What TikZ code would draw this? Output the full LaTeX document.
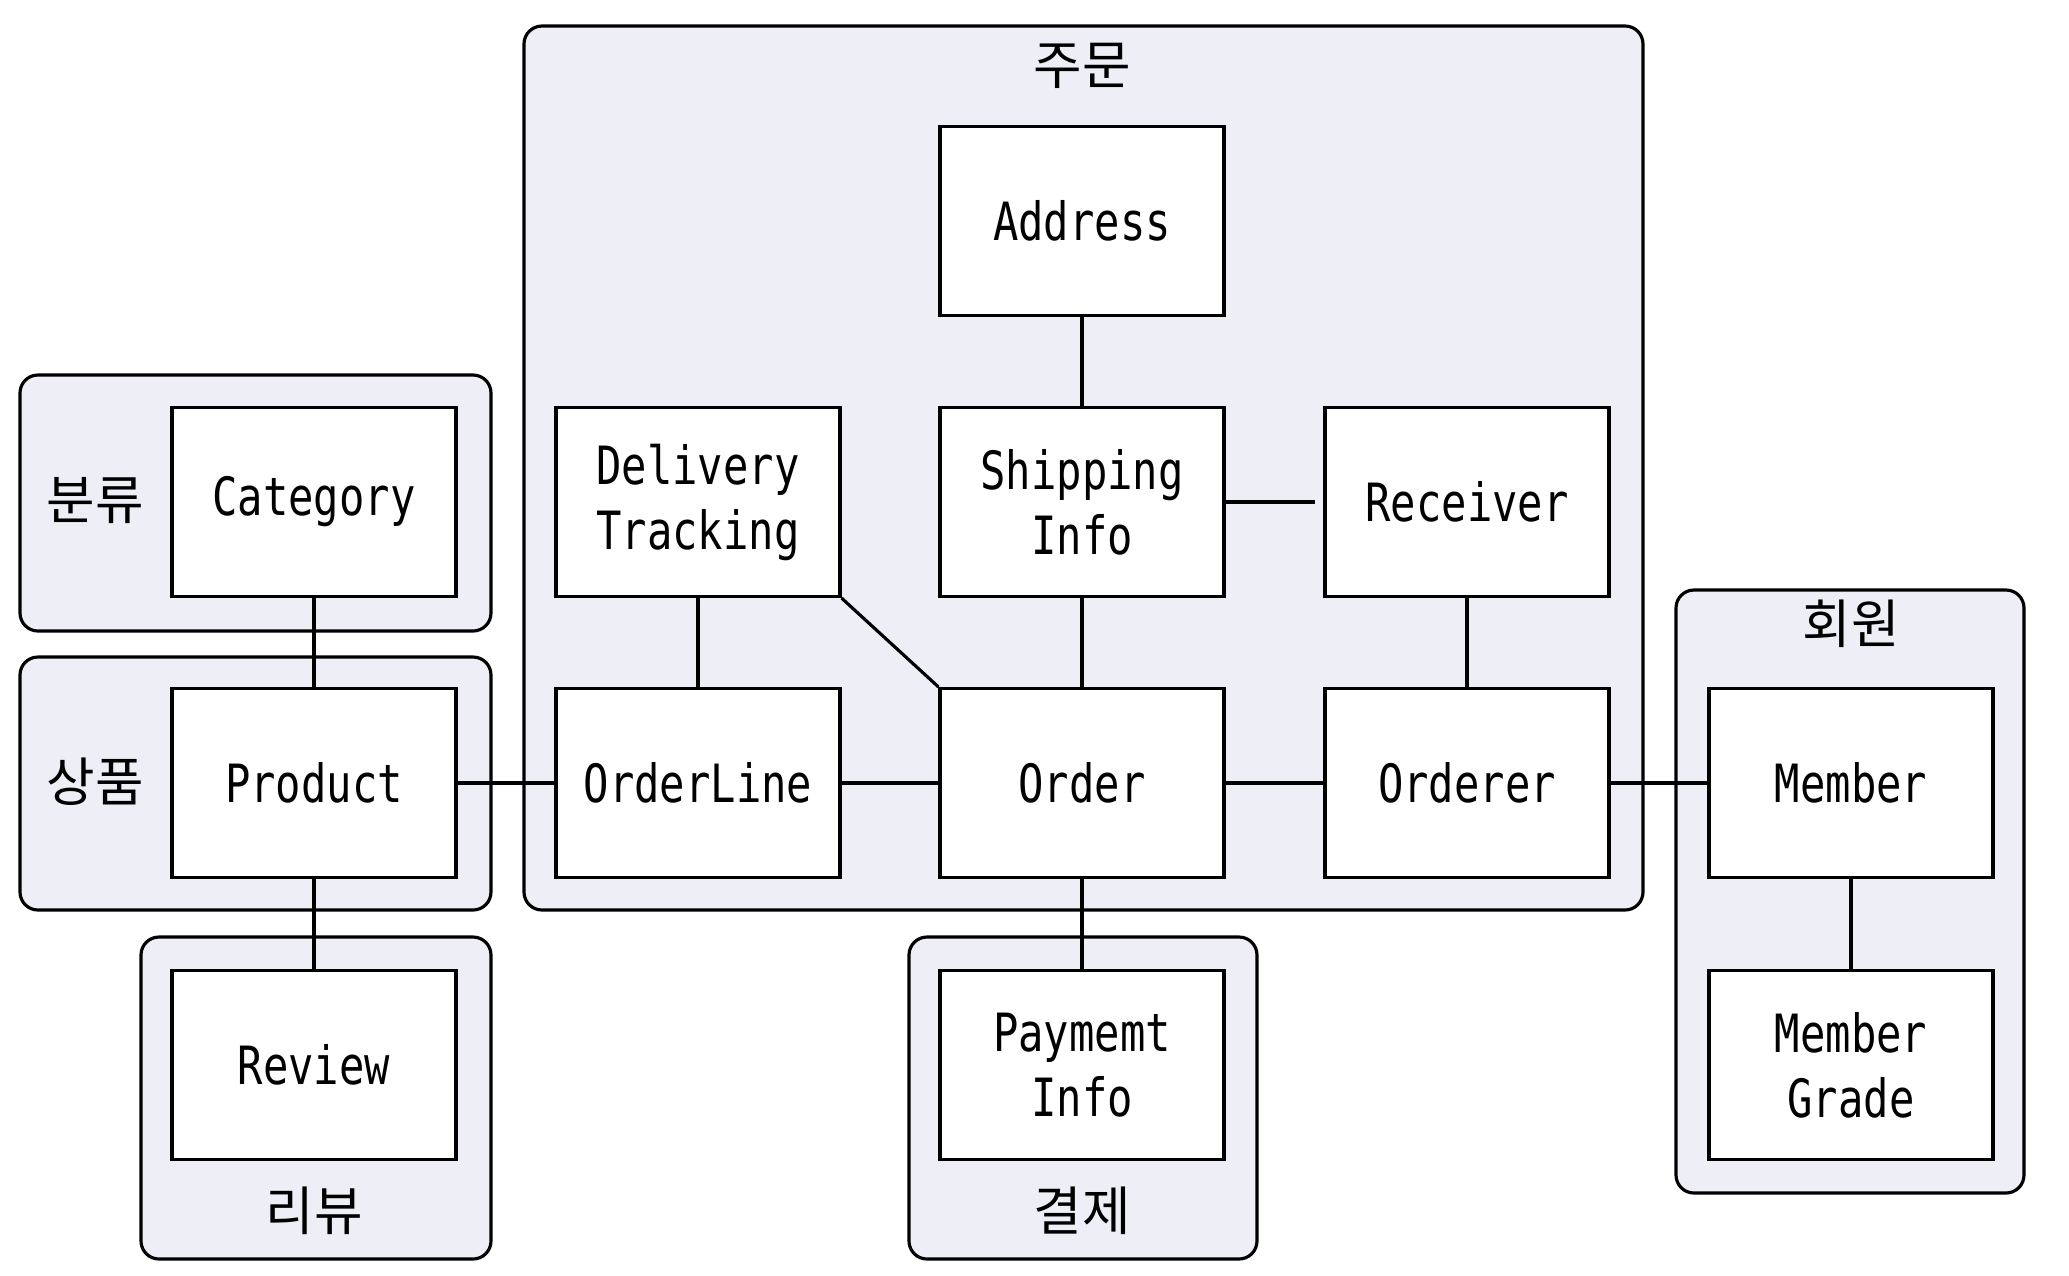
\documentclass[tikz,border=0pt]{standalone}
\usepackage{fontspec}
\setmonofont[FakeStretch=0.8]{DejaVu Sans Mono}
\newfontfamily\kofont{Noto Sans CJK KR}
\definecolor{groupfill}{RGB}{238,238,246}
\tikzset{
  entity/.style={draw, fill=white, line width=0.9pt, minimum width=2.84cm, minimum height=1.89cm,
    align=center, font=\ttfamily\fontsize{15}{18.5}\selectfont},
  group/.style={draw, fill=groupfill, line width=0.9pt, rounded corners=0.18cm},
  grouplabel/.style={font=\kofont\fontsize{15}{16}\selectfont},
  link/.style={line width=0.9pt}
}
\begin{document}
\begin{tikzpicture}
    \useasboundingbox (0,0) rectangle (20.69,-12.75);
    % bounded contexts
    \draw[group] (5.24,-0.26) rectangle (16.43,-9.10);
    \draw[group] (0.20,-3.75) rectangle (4.91,-6.31);
    \draw[group] (0.20,-6.57) rectangle (4.91,-9.10);
    \draw[group] (1.41,-9.37) rectangle (4.91,-12.59);
    \draw[group] (9.09,-9.37) rectangle (12.57,-12.59);
    \draw[group] (16.76,-5.90) rectangle (20.24,-11.93);
    \node[grouplabel] (lblorder) at (10.82,-0.66) {주문};
    \node[grouplabel] (lblcat) at (0.95,-5.01) {분류};
    \node[grouplabel] (lblprod) at (0.95,-7.82) {상품};
    \node[grouplabel] (lblreview) at (3.14,-12.11) {리뷰};
    \node[grouplabel] (lblpay) at (10.82,-12.11) {결제};
    \node[grouplabel] (lblmember) at (18.51,-6.24) {회원};
    % entities
    \node[entity] (address) at (10.82,-2.21) {Address};
    \node[entity] (tracking) at (6.98,-5.02) {Delivery\\Tracking};
    \node[entity] (shipping) at (10.82,-5.02) {Shipping\\Info};
    \node[entity] (receiver) at (14.67,-5.02) {Receiver};
    \node[entity] (category) at (3.14,-5.02) {Category};
    \node[entity] (product) at (3.14,-7.83) {Product};
    \node[entity] (orderline) at (6.98,-7.83) {OrderLine};
    \node[entity] (order) at (10.82,-7.83) {Order};
    \node[entity] (orderer) at (14.67,-7.83) {Orderer};
    \node[entity] (member) at (18.51,-7.83) {Member};
    \node[entity] (review) at (3.14,-10.65) {Review};
    \node[entity] (payment) at (10.82,-10.65) {Paymemt\\Info};
    \node[entity] (grade) at (18.51,-10.65) {Member\\Grade};
    % links
    \draw[link] (address) -- (shipping);
    \draw[link, shorten >=0.08cm] (shipping) -- (receiver);
    \draw[link] (shipping) -- (order);
    \draw[link] (receiver) -- (orderer);
    \draw[link] (tracking) -- (orderline);
    \draw[link] (tracking.south east) -- (order.north west);
    \draw[link] (category) -- (product);
    \draw[link] (product) -- (orderline);
    \draw[link] (orderline) -- (order);
    \draw[link] (order) -- (orderer);
    \draw[link] (orderer) -- (member);
    \draw[link] (product) -- (review);
    \draw[link] (order) -- (payment);
    \draw[link] (member) -- (grade);
\end{tikzpicture}
\end{document}
